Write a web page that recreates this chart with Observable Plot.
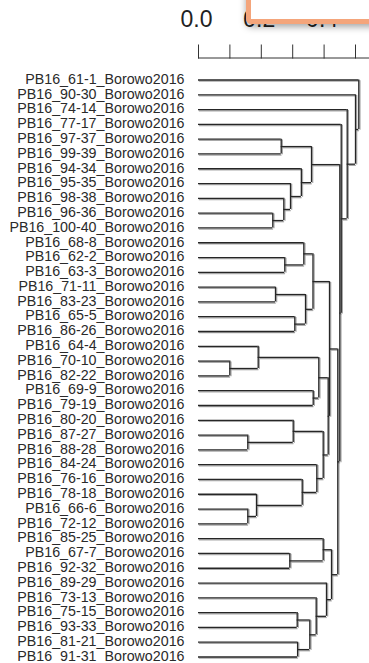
<!DOCTYPE html>
<html><head><meta charset="utf-8">
<script src="https://cdn.jsdelivr.net/npm/d3@7"></script>
<script src="https://cdn.jsdelivr.net/npm/@observablehq/plot@0.6"></script>
<style>
body{margin:0;background:#fff;}
#wrap{position:relative;width:369px;height:663px;overflow:hidden;}
#box{position:absolute;left:246px;top:-20px;width:160px;height:34px;border:5px solid #F4A57B;border-radius:5px;background:#fff;box-shadow:0 3px 7px rgba(0,0,0,0.35);}
</style></head><body><div id="wrap"><div id="box"></div></div>
<script>
// Leaf labels in plotted order (top to bottom)
const labels = [
  "PB16_61-1_Borowo2016","PB16_90-30_Borowo2016","PB16_74-14_Borowo2016","PB16_77-17_Borowo2016",
  "PB16_97-37_Borowo2016","PB16_99-39_Borowo2016","PB16_94-34_Borowo2016","PB16_95-35_Borowo2016",
  "PB16_98-38_Borowo2016","PB16_96-36_Borowo2016","PB16_100-40_Borowo2016","PB16_68-8_Borowo2016",
  "PB16_62-2_Borowo2016","PB16_63-3_Borowo2016","PB16_71-11_Borowo2016","PB16_83-23_Borowo2016",
  "PB16_65-5_Borowo2016","PB16_86-26_Borowo2016","PB16_64-4_Borowo2016","PB16_70-10_Borowo2016",
  "PB16_82-22_Borowo2016","PB16_69-9_Borowo2016","PB16_79-19_Borowo2016","PB16_80-20_Borowo2016",
  "PB16_87-27_Borowo2016","PB16_88-28_Borowo2016","PB16_84-24_Borowo2016","PB16_76-16_Borowo2016",
  "PB16_78-18_Borowo2016","PB16_66-6_Borowo2016","PB16_72-12_Borowo2016","PB16_85-25_Borowo2016",
  "PB16_67-7_Borowo2016","PB16_92-32_Borowo2016","PB16_89-29_Borowo2016","PB16_73-13_Borowo2016",
  "PB16_75-15_Borowo2016","PB16_93-33_Borowo2016","PB16_81-21_Borowo2016","PB16_91-31_Borowo2016"
];
// hclust-style merge table: negative = leaf (1-based), positive = earlier merge step
const mergeA = [-20,-25,-30,-29,-19,-10,-15,-5,-9,-13,-33,-8,-24,-17,-37,-39,-28,-7,-12,7,15,8,19,-22,-36,-27,5,-32,13,-35,27,23,28,32,22,-4,-3,-2,-1];
const mergeB = [-21,-26,-31,3,1,-11,-16,-6,6,-14,-34,9,2,-18,-38,-40,4,12,10,14,16,18,20,-23,21,17,24,11,26,25,29,31,30,33,34,35,36,37,38];
const mergeHeight = [0.0997,0.157,0.157,0.1847,0.1901,0.2366,0.2452,0.2634,0.2717,0.2748,0.2908,0.293,0.3016,0.3067,0.3143,0.3156,0.3303,0.3275,0.3354,0.3408,0.3545,0.3599,0.3646,0.3653,0.3748,0.3768,0.3831,0.3971,0.3971,0.4076,0.413,0.4172,0.4236,0.4436,0.45,0.4545,0.4736,0.5,0.5105];
const tickValues = [0,0.1,0.2,0.3,0.4,0.5];
const tickLabelValues = [0,0.2,0.4];
const tickLabels = ["0.0","0.2","0.4"];

// Build segments
const nodeY = [];
const hSegs = [], vSegs = [];
function info(ref){ return ref < 0 ? {y: -ref - 1, h: 0} : {y: nodeY[ref - 1], h: mergeHeight[ref - 1]}; }
mergeA.forEach((a, i) => {
  const A = info(a), B = info(mergeB[i]), H = mergeHeight[i];
  nodeY[i] = (A.y + B.y) / 2;
  hSegs.push({y: A.y, x1: A.h, x2: H});
  hSegs.push({y: B.y, x1: B.h, x2: H});
  vSegs.push({x: H, y1: A.y, y2: B.y});
});
const leaves = labels.map((l, i) => ({label: l, i}));

const ink = "#262626", halo = "#a8a8a8";
const plot = Plot.plot({
  width: 369, height: 663,
  marginLeft: 198, marginRight: 0, marginTop: 57.5, marginBottom: 4,
  x: {domain: [0, 171/314], axis: "top", ticks: tickValues, tickSize: 14, tickFormat: () => "", line: true},
  y: {domain: [0, 39], range: [79.5, 656.5], axis: null},
  style: {fontFamily: "'Liberation Sans', Arial, sans-serif", background: "transparent", overflow: "hidden", color: "#333"},
  marks: [
    Plot.text(tickLabelValues, {x: d => d, text: (d, i) => tickLabels[i], frameAnchor: "top", lineAnchor: "middle", dy: -38, dx: -2, fontSize: 23, fill: "#222"}),
    Plot.ruleY(hSegs, {y: "y", x1: "x1", x2: "x2", stroke: halo, strokeWidth: 1.2, dx: 0.8, dy: 1.2}),
    Plot.ruleX(vSegs, {x: "x", y1: "y1", y2: "y2", stroke: halo, strokeWidth: 1.2, dx: 1.2, dy: 0.8}),
    Plot.ruleY(hSegs, {y: "y", x1: "x1", x2: "x2", stroke: ink, strokeWidth: 1.3}),
    Plot.ruleX(vSegs, {x: "x", y1: "y1", y2: "y2", stroke: ink, strokeWidth: 1.3}),
    Plot.text(leaves, {x: () => 0, y: "i", text: "label", textAnchor: "end", dx: -14, dy: -0.8, fontSize: 14.25, fill: "#2a2a2a"})
  ]
});
document.getElementById("wrap").insertBefore(plot, document.getElementById("box"));
</script>
</body></html>
